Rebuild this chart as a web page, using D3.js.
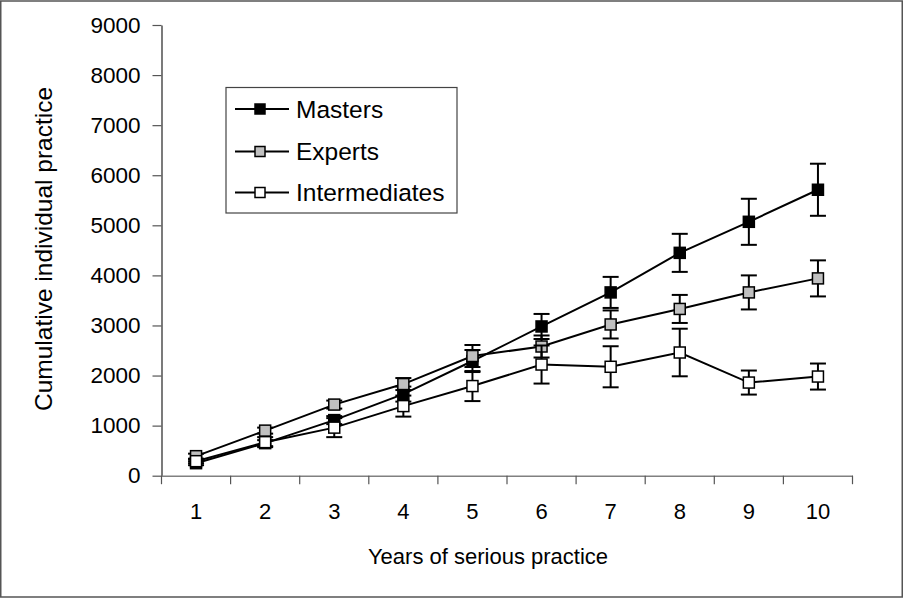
<!DOCTYPE html>
<html>
<head>
<meta charset="utf-8">
<script src="https://cdn.jsdelivr.net/npm/d3@7/dist/d3.min.js"></script>
<style>
  html, body { margin: 0; padding: 0; background: #fff; }
  svg { display: block; font-family: "Liberation Sans", Arial, sans-serif; }
</style>
</head>
<body>
<svg id="chart" width="904" height="598"></svg>
<script>
// ---- data ----
const years = [1, 2, 3, 4, 5, 6, 7, 8, 9, 10];
const seriesNames = ["Masters", "Experts", "Intermediates"];
const mastersValues = [250, 650, 1110, 1630, 2290, 2980, 3660, 4450, 5070, 5710];
const mastersErrors = [40, 60, 80, 150, 220, 250, 310, 380, 460, 520];
const expertsValues = [390, 900, 1420, 1830, 2390, 2580, 3020, 3330, 3660, 3940];
const expertsErrors = [50, 60, 80, 120, 220, 220, 280, 280, 340, 360];
const intermediatesValues = [290, 670, 960, 1390, 1790, 2220, 2175, 2460, 1860, 1980];
const intermediatesErrors = [40, 100, 190, 210, 300, 380, 410, 475, 240, 260];
const yTicks = [0, 1000, 2000, 3000, 4000, 5000, 6000, 7000, 8000, 9000];
const xTitle = "Years of serious practice";
const yTitle = "Cumulative individual practice";

const fills = ["#000000", "#c0c0c0", "#ffffff"];
const series = [
  { name: seriesNames[0], values: mastersValues, errors: mastersErrors, fill: fills[0] },
  { name: seriesNames[1], values: expertsValues, errors: expertsErrors, fill: fills[1] },
  { name: seriesNames[2], values: intermediatesValues, errors: intermediatesErrors, fill: fills[2] }
];

const svg = d3.select("#chart");
const W = 904, H = 598;

// outer frame
svg.append("rect").attr("x", 0.75).attr("y", 1).attr("width", W - 2.5).attr("height", H - 2)
  .attr("fill", "#fff").attr("stroke", "#555").attr("stroke-width", 1.5);

const x = d3.scaleBand().domain(years).range([161.5, 852.5]).padding(0);
const y = d3.scaleLinear().domain([0, 9000]).range([475.7, 25]);
const xc = d => x(d) + x.bandwidth() / 2;

// y axis
const yAxis = svg.append("g").attr("transform", "translate(161.5,0)")
  .call(d3.axisLeft(y).tickValues(yTicks).tickFormat(d3.format("d"))
    .tickSize(9).tickPadding(12).tickSizeOuter(0));
yAxis.select(".domain").attr("stroke", "#222").attr("stroke-width", 1.2);
yAxis.selectAll(".tick line").attr("stroke", "#555").attr("stroke-width", 1.2);
yAxis.selectAll(".tick text").attr("font-size", 22.5).attr("fill", "#000")
  .attr("font-family", "Liberation Sans, Arial, sans-serif");

// x axis (labels centered in bands, ticks at band boundaries)
const xAxis = svg.append("g").attr("transform", "translate(0,475.7)")
  .call(d3.axisBottom(x).tickSize(0).tickPadding(28).tickSizeOuter(0));
xAxis.select(".domain").attr("stroke", "#808080").attr("stroke-width", 1.5);
xAxis.selectAll(".tick text").attr("font-size", 22).attr("fill", "#000")
  .attr("font-family", "Liberation Sans, Arial, sans-serif");
const boundaries = years.map(d => x(d)).concat([x(years[years.length - 1]) + x.bandwidth()]);
xAxis.selectAll("line.bound").data(boundaries).enter().append("line")
  .attr("class", "bound")
  .attr("x1", d => d).attr("x2", d => d).attr("y1", 0).attr("y2", 8.5)
  .attr("stroke", "#555").attr("stroke-width", 1.2);

// axis titles
svg.append("text").attr("x", 488).attr("y", 564).attr("text-anchor", "middle")
  .attr("font-size", 22).attr("fill", "#000").text(xTitle);
svg.append("text").attr("transform", "translate(52,249) rotate(-90)").attr("text-anchor", "middle")
  .attr("font-size", 24.5).attr("fill", "#000").text(yTitle);

// series
const line = d3.line().x((d, i) => xc(years[i])).y(d => y(d));
const cap = 8, ms = 11;
series.forEach(s => {
  const g = svg.append("g");
  const eb = g.selectAll("g.eb").data(years).enter().append("g").attr("class", "eb");
  eb.append("line")
    .attr("x1", d => xc(d)).attr("x2", d => xc(d))
    .attr("y1", (d, i) => y(s.values[i] + s.errors[i]))
    .attr("y2", (d, i) => y(s.values[i] - s.errors[i]))
    .attr("stroke", "#000").attr("stroke-width", 2);
  eb.append("line")
    .attr("x1", d => xc(d) - cap).attr("x2", d => xc(d) + cap)
    .attr("y1", (d, i) => y(s.values[i] + s.errors[i]))
    .attr("y2", (d, i) => y(s.values[i] + s.errors[i]))
    .attr("stroke", "#000").attr("stroke-width", 2);
  eb.append("line")
    .attr("x1", d => xc(d) - cap).attr("x2", d => xc(d) + cap)
    .attr("y1", (d, i) => y(s.values[i] - s.errors[i]))
    .attr("y2", (d, i) => y(s.values[i] - s.errors[i]))
    .attr("stroke", "#000").attr("stroke-width", 2);
  g.append("path").datum(s.values).attr("d", line)
    .attr("fill", "none").attr("stroke", "#000").attr("stroke-width", 2);
  g.selectAll("rect.m").data(s.values).enter().append("rect").attr("class", "m")
    .attr("x", (d, i) => xc(years[i]) - ms / 2)
    .attr("y", d => y(d) - ms / 2)
    .attr("width", ms).attr("height", ms)
    .attr("fill", s.fill).attr("stroke", "#000").attr("stroke-width", 1.5);
});

// legend
const lg = svg.append("g");
lg.append("rect").attr("x", 226).attr("y", 87.5).attr("width", 231).attr("height", 125.5)
  .attr("fill", "#fff").attr("stroke", "#444").attr("stroke-width", 1.2);
const ly = [109, 151.5, 192.5];
series.forEach((s, i) => {
  lg.append("line").attr("x1", 235).attr("x2", 289).attr("y1", ly[i]).attr("y2", ly[i])
    .attr("stroke", "#000").attr("stroke-width", 2);
  lg.append("rect").attr("x", 260 - 5).attr("y", ly[i] - 5).attr("width", 10).attr("height", 10)
    .attr("fill", s.fill).attr("stroke", "#000").attr("stroke-width", 1.5);
  lg.append("text").attr("x", 296).attr("y", ly[i]).attr("dy", "0.36em")
    .attr("font-size", 24.5).attr("fill", "#000").text(s.name);
});
</script>
</body>
</html>
